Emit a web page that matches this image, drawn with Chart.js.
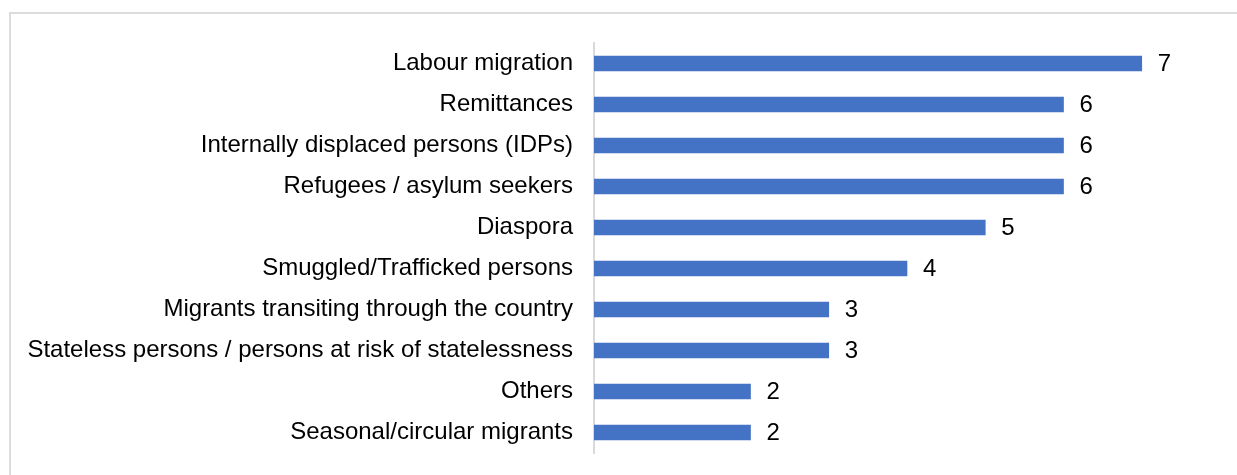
<!DOCTYPE html>
<html>
<head>
<meta charset="utf-8">
<title>Migration topics</title>
<script src="https://cdn.jsdelivr.net/npm/chart.js@4/dist/chart.umd.min.js"></script>
<style>
    html, body {
        margin: 0;
        padding: 0;
        background: #ffffff;
        overflow: hidden;
    }
    #frame {
        position: absolute;
        left: 9px;
        top: 12px;
        width: 1400px;
        height: 700px;
        border: 2px solid #dcdcdc;
    }
    #plot-canvas {
        position: absolute;
        left: 0;
        top: 0;
    }
</style>
</head>
<body>
<div id="frame"></div>
<canvas id="plot-canvas" width="1237" height="475"></canvas>
<script>
/* ----- ----- ----- -----> D A T A <----- ----- ----- ----- */

const CATEGORIES = [
    "Labour migration",
    "Remittances",
    "Internally displaced persons (IDPs)",
    "Refugees / asylum seekers",
    "Diaspora",
    "Smuggled/Trafficked persons",
    "Migrants transiting through the country",
    "Stateless persons / persons at risk of statelessness",
    "Others",
    "Seasonal/circular migrants"
];

const COUNTS = [7, 6, 6, 6, 5, 4, 3, 3, 2, 2];

/* ----- ----- ----- -----> S E T T I N G S <----- ----- ----- ----- */

const
    FONT_FAMILY = "'Liberation Sans', Arial, sans-serif",
    FONT_SIZE = 24,
    TEXT_COLOR = "#000000",
    BAR_COLOR = "#4472C4",
    AXIS_COLOR = "#d9d9d9",
    AXIS_X = 594;

/**
 * @name valueLabels
 * @description Writes the count to the right of every bar
 */
const valueLabels = {
    id: "valueLabels",
    afterDatasetsDraw(chart) {
        const ctx = chart.ctx;
        const meta = chart.getDatasetMeta(0);
        const values = chart.data.datasets[0].data;
        ctx.save();
        ctx.font = `${FONT_SIZE}px ${FONT_FAMILY}`;
        ctx.fillStyle = TEXT_COLOR;
        ctx.textAlign = "left";
        ctx.textBaseline = "middle";
        meta.data.forEach((bar, i) => {
            ctx.fillText(String(values[i]), bar.x + 16, bar.y + 1);
        });
        ctx.restore();
    }
};

const config = {
    type: "bar",
    data: {
        labels: CATEGORIES,
        datasets: [{
            label: "Count",
            data: COUNTS,
            backgroundColor: BAR_COLOR,
            borderWidth: 0,
            barThickness: 15
        }]
    },
    options: {
        indexAxis: "y",
        responsive: false,
        animation: false,
        layout: {
            padding: { top: 43, bottom: 22, left: 0, right: 17 }
        },
        plugins: {
            legend: { display: false },
            tooltip: { enabled: false },
            title: { display: false }
        },
        scales: {
            x: {
                display: false,
                min: 0,
                max: 8
            },
            y: {
                grid: { display: false, drawTicks: false },
                border: { display: true, color: AXIS_COLOR, width: 2 },
                ticks: {
                    padding: 21,
                    color: TEXT_COLOR,
                    font: { family: FONT_FAMILY, size: FONT_SIZE }
                },
                // fixed label column; the tick padding should not eat into the plot height
                afterFit: (scale) => {
                    scale.width = AXIS_X;
                    scale.paddingTop = 0;
                    scale.paddingBottom = 0;
                }
            }
        }
    },
    plugins: [valueLabels]
};

const ctx = document.getElementById("plot-canvas");
window.topic_plot = new Chart(ctx, config);
</script>
</body>
</html>
